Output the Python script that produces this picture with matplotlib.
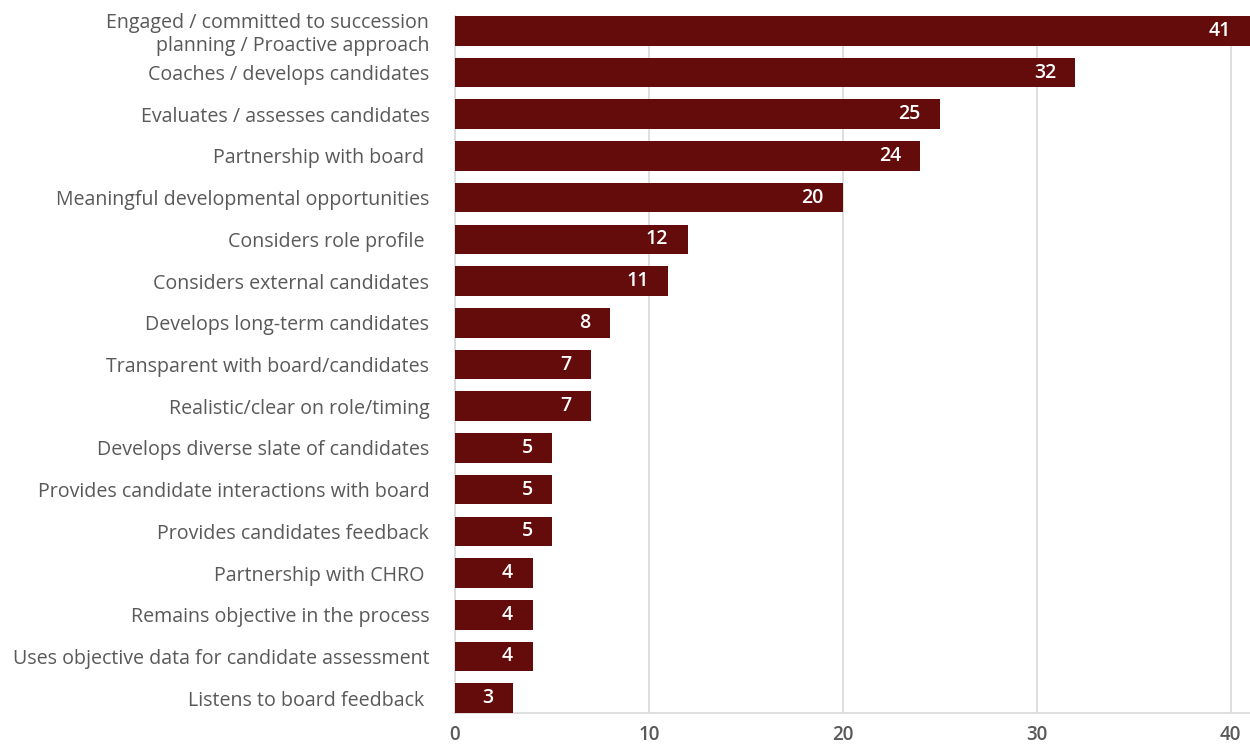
import matplotlib.pyplot as plt

categories = [
    "Engaged / committed to succession\nplanning / Proactive approach",
    "Coaches / develops candidates",
    "Evaluates / assesses candidates",
    "Partnership with board ",
    "Meaningful developmental opportunities",
    "Considers role profile ",
    "Considers external candidates",
    "Develops long-term candidates",
    "Transparent with board/candidates",
    "Realistic/clear on role/timing",
    "Develops diverse slate of candidates",
    "Provides candidate interactions with board",
    "Provides candidates feedback",
    "Partnership with CHRO ",
    "Remains objective in the process",
    "Uses objective data for candidate assessment",
    "Listens to board feedback ",
]
values = [41, 32, 25, 24, 20, 12, 11, 8, 7, 7, 5, 5, 5, 4, 4, 4, 3]
xticks = [0, 10, 20, 30, 40]

bar_color = "#630c0b"
text_color = "#595959"
grid_color = "#d9d9d9"

plt.rcParams["font.family"] = ["Open Sans", "DejaVu Sans"]

fig = plt.figure(figsize=(12.5, 7.45), dpi=100)
ax = fig.add_axes([455 / 1250, 1 - 713 / 745, 795 / 1250, 697 / 745])

pos = list(range(len(values)))
ax.barh(pos, values, height=0.71, color=bar_color, zorder=3)

for y, v in zip(pos, values):
    ax.annotate(str(v), (v, y), xytext=(-14, 0), textcoords="offset points",
                ha="right", va="center", color="white", fontsize=14,
                fontweight="semibold", zorder=4)

ax.set_ylim(len(values) - 1 + 0.355, -0.355)
ax.set_xlim(0, 41)
ax.set_yticks(pos)
ax.set_yticklabels(categories, fontsize=14.1, color=text_color, linespacing=1.15)
ax.set_xticks(xticks)
ax.set_xticklabels([str(t) for t in xticks], fontsize=13.5, color=text_color,
                   fontweight="semibold")
ax.tick_params(axis="y", length=0, pad=18.5)
ax.tick_params(axis="x", length=0, pad=9)

ax.grid(axis="x", color=grid_color, linewidth=1.2, zorder=0)
for side in ["top", "right"]:
    ax.spines[side].set_visible(False)
for side in ["left", "bottom"]:
    ax.spines[side].set_color(grid_color)
    ax.spines[side].set_linewidth(1.2)

fig.savefig("out.png", dpi=100)
